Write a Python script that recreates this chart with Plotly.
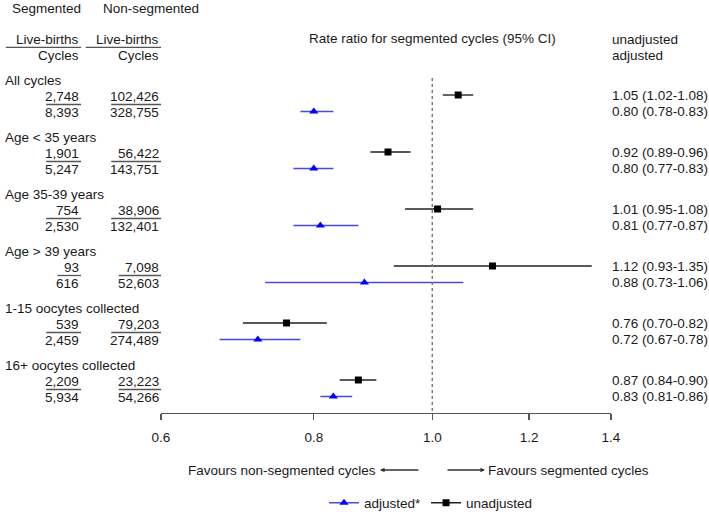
import plotly.graph_objects as go
import math

# ---------------- data ----------------
groups = ["All cycles", "Age < 35 years", "Age 35-39 years", "Age > 39 years",
          "1-15 oocytes collected", "16+ oocytes collected"]
seg_livebirths = [2748, 1901, 754, 93, 539, 2209]
seg_cycles = [8393, 5247, 2530, 616, 2459, 5934]
non_livebirths = [102426, 56422, 38906, 7098, 79203, 23223]
non_cycles = [328755, 143751, 132401, 52603, 274489, 54266]

unadj_rr = [1.05, 0.92, 1.01, 1.12, 0.76, 0.87]
unadj_lo = [1.02, 0.89, 0.95, 0.93, 0.70, 0.84]
unadj_hi = [1.08, 0.96, 1.08, 1.35, 0.82, 0.90]
adj_rr = [0.80, 0.80, 0.81, 0.88, 0.72, 0.83]
adj_lo = [0.78, 0.77, 0.77, 0.73, 0.67, 0.81]
adj_hi = [0.83, 0.83, 0.87, 1.06, 0.78, 0.86]

tick_vals = [0.6, 0.8, 1.0, 1.2, 1.4]
tick_text = ["0.6", "0.8", "1.0", "1.2", "1.4"]

# ---------------- layout helpers ----------------
W, H = 709, 512
FONT = "Liberation Sans, Arial, sans-serif"
FS = 13.5
TXT = "#1a1a1a"
AXIS_Y = 413
GROUP_STEP = 57


def px(xp):
    return xp / W


def py(yp):
    return 1 - yp / H


def text_width(s, size=FS):
    w = 0
    for ch in s:
        if ch.isdigit():
            w += 0.556
        elif ch == ",":
            w += 0.278
        else:
            w += 0.5
    return w * size


def row_unadj(i):
    return 95 + GROUP_STEP * i


def row_adj(i):
    return 111.5 + GROUP_STEP * i


def interleave(vals):
    out = []
    for v in vals:
        out += [v, None]
    return out


fig = go.Figure()

# adjusted (blue triangles)
fig.add_trace(go.Scatter(
    x=interleave(adj_rr),
    y=interleave([row_adj(i) for i in range(len(groups))]),
    mode="lines+markers",
    name="adjusted*",
    line=dict(color="#4a4ad8", width=1.4),
    marker=dict(symbol="triangle-up", size=8, color="#0000ff"),
    error_x=dict(type="data", symmetric=False,
                 array=interleave([h - e for h, e in zip(adj_hi, adj_rr)]),
                 arrayminus=interleave([e - l for e, l in zip(adj_rr, adj_lo)]),
                 width=0, thickness=1.4, color="#4a4ad8"),
    hoverinfo="skip",
))

# unadjusted (black squares)
fig.add_trace(go.Scatter(
    x=interleave(unadj_rr),
    y=interleave([row_unadj(i) for i in range(len(groups))]),
    mode="lines+markers",
    name="unadjusted",
    line=dict(color="#222222", width=1.4),
    marker=dict(symbol="square", size=7, color="#000000"),
    error_x=dict(type="data", symmetric=False,
                 array=interleave([h - e for h, e in zip(unadj_hi, unadj_rr)]),
                 arrayminus=interleave([e - l for e, l in zip(unadj_rr, unadj_lo)]),
                 width=0, thickness=1.4, color="#222222"),
    hoverinfo="skip",
))

annotations = []
shapes = []


def add_text(x, y, s, anchor="left", size=FS):
    annotations.append(dict(xref="paper", yref="paper", x=px(x), y=py(y), text=s,
                            showarrow=False, xanchor=anchor, yanchor="middle",
                            font=dict(family=FONT, size=size, color=TXT)))


def add_hline(x0, x1, y, color="#555555", width=1.3):
    shapes.append(dict(type="line", xref="paper", yref="paper", x0=px(x0), x1=px(x1),
                       y0=py(y), y1=py(y), line=dict(color=color, width=width)))


SEG_R, NON_R = 81, 161

# column headers
add_text(10, 8, "Segmented")
add_text(101, 8, "Non-segmented")
for r in (SEG_R, NON_R):
    add_text(r, 39, "Live-births", anchor="right")
    add_text(r, 55.5, "Cycles", anchor="right")
    add_hline(r - text_width("Live-births") - 1, r, 47.3)

add_text(432, 38, "Rate ratio for segmented cycles (95% CI)", anchor="center")
add_text(610, 39.5, "unadjusted")
add_text(610, 55.5, "adjusted")

for i, g in enumerate(groups):
    base = 80 + GROUP_STEP * i
    add_text(3, base, g)
    for r, num, den in ((SEG_R, seg_livebirths[i], seg_cycles[i]),
                        (NON_R, non_livebirths[i], non_cycles[i])):
        ns, ds = f"{num:,}", f"{den:,}"
        add_text(r, base + 16.5, ns, anchor="right")
        add_text(r, base + 32.5, ds, anchor="right")
        wmax = max(text_width(ns), text_width(ds))
        add_hline(r - wmax - 1, r, base + 24.5)
    add_text(610, row_unadj(i), f"{unadj_rr[i]:.2f} ({unadj_lo[i]:.2f}-{unadj_hi[i]:.2f})")
    add_text(610, row_adj(i), f"{adj_rr[i]:.2f} ({adj_lo[i]:.2f}-{adj_hi[i]:.2f})")

# reference line at 1
shapes.append(dict(type="line", xref="x", yref="y", x0=1, x1=1, y0=78, y1=AXIS_Y,
                   line=dict(color="#7a7a7a", width=1.5, dash="dot")))

# favours arrows
add_text(378, 470, "Favours non-segmented cycles", anchor="right")
add_text(486, 470, "Favours segmented cycles", anchor="left")
for head, tail in ((380, 420), (485, 446)):
    annotations.append(dict(xref="paper", yref="paper", x=px(head), y=py(470),
                            ax=tail - head, ay=0, axref="pixel", ayref="pixel",
                            text="", showarrow=True, arrowhead=2, arrowsize=0.7,
                            arrowwidth=1.3, arrowcolor="#333333", standoff=0))

fig.update_layout(
    width=W, height=H, autosize=False,
    margin=dict(l=0, r=0, t=0, b=0, pad=0, autoexpand=False),
    paper_bgcolor="white", plot_bgcolor="white",
    font=dict(family=FONT, size=FS, color=TXT),
    xaxis=dict(type="log", domain=[px(161), px(611)],
               range=[math.log10(0.6), math.log10(1.4)],
               tickvals=tick_vals, ticktext=tick_text,
               showline=True, linecolor="#555555", linewidth=1.3,
               ticks="outside", ticklen=6, tickwidth=1.3, tickcolor="#555555",
               ticklabelstandoff=5,
               showgrid=False, zeroline=False, automargin=False,
               tickfont=dict(family=FONT, size=FS, color=TXT)),
    yaxis=dict(visible=False, domain=[1 - AXIS_Y / H, 1], range=[AXIS_Y, 0],
               showgrid=False, zeroline=False, automargin=False),
    showlegend=True,
    legend=dict(orientation="h", x=px(324), xanchor="left", y=py(503), yanchor="middle",
                font=dict(family=FONT, size=FS, color=TXT), bgcolor="rgba(0,0,0,0)"),
    annotations=annotations,
    shapes=shapes,
)

fig.write_html("out.html",
               config={"displayModeBar": False, "staticPlot": True},
               post_script="document.body.style.margin='0';"
                           "document.body.style.overflow='hidden';")
